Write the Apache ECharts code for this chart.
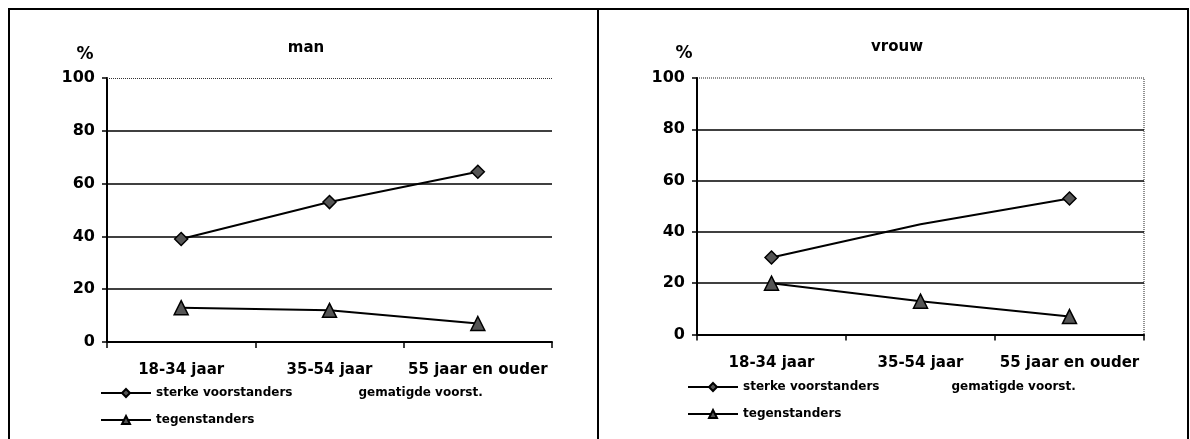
<!DOCTYPE html>
<html>
<head>
<meta charset="utf-8">
<script src="https://cdn.jsdelivr.net/npm/echarts@6/dist/echarts.min.js"></script>
<style>
html,body{margin:0;padding:0;background:#fff;}
#chart{width:1190px;height:439px;}
</style>
</head>
<body>
<div id="chart"></div>
<script>
// ---- data ----
const categories = ['18-34 jaar', '35-54 jaar', '55 jaar en ouder'];
const seriesNames = ['sterke voorstanders', 'gematigde voorst.', 'tegenstanders'];
const panelTitles = ['man', 'vrouw'];
const manSterke = [39, 53, 64.5];
const manGematigd = [];          // not visible in the reference
const manTegen = [13, 12, 7];
const vrouwSterke = [30, 43, 53];
const vrouwGematigd = [];        // not visible in the reference
const vrouwTegen = [20, 13, 7];
const vrouwSterkeHiddenMarkers = [1]; // marker at 35-54 is not drawn in the reference
const yMin = 0, yMax = 100, yStep = 20;

// ---- styling ----
const FONT = 'DejaVu Sans';
const lineStyle = { color: '#000', width: 2 };
const markerStyle = { color: '#555', borderColor: '#000', borderWidth: 1.5 };

function yAxis(gi) {
  return {
    type: 'value', gridIndex: gi, min: yMin, max: yMax, interval: yStep,
    axisLine: { show: true, lineStyle: { color: '#000', width: 2 } },
    axisTick: { show: true, length: 5, lineStyle: { color: '#000', width: 1.5 } },
    axisLabel: { color: '#000', fontFamily: FONT, fontWeight: 'bold', fontSize: 16, margin: 12 },
    splitLine: { show: true, showMaxLine: false, lineStyle: { color: '#000', width: 1.6 } }
  };
}
function xAxis(gi) {
  return {
    type: 'category', gridIndex: gi, data: categories,
    axisLine: { show: true, lineStyle: { color: '#000', width: 2 } },
    axisTick: { show: true, length: 6, lineStyle: { color: '#000', width: 1.5 } },
    axisLabel: { color: '#000', fontFamily: FONT, fontWeight: 'bold', fontSize: 15, margin: 21, interval: 0 },
    splitLine: { show: false }
  };
}
function withHidden(data, hidden) {
  return data.map((v, i) => hidden && hidden.indexOf(i) >= 0 ? { value: v, symbol: 'none' } : v);
}
function sterke(gi, data, extra) {
  return Object.assign({
    name: seriesNames[0], type: 'line', xAxisIndex: gi, yAxisIndex: gi, data: data,
    symbol: 'diamond', symbolSize: 13, lineStyle: lineStyle, itemStyle: markerStyle, z: 3
  }, extra || {});
}
function gematigd(gi, data) {
  return {
    name: seriesNames[1], type: 'line', xAxisIndex: gi, yAxisIndex: gi, data: data,
    symbol: 'none', lineStyle: { color: 'rgba(255,255,255,0)', width: 2 },
    itemStyle: { color: 'rgba(255,255,255,0)' }
  };
}
function tegen(gi, data) {
  return {
    name: seriesNames[2], type: 'line', xAxisIndex: gi, yAxisIndex: gi, data: data,
    symbol: 'triangle', symbolSize: 14, lineStyle: lineStyle, itemStyle: markerStyle, z: 4
  };
}
function legend(left, top, names, gap) {
  return {
    left: left, top: top, orient: 'horizontal', itemGap: gap, padding: 0,
    itemWidth: 50, itemHeight: 10, data: names, selectedMode: false,
    textStyle: { color: '#000', fontFamily: FONT, fontWeight: 'bold', fontSize: 12 }
  };
}
function label(x, y, text, size) {
  return {
    type: 'text', x: x, y: y, silent: true,
    style: { text: text, fill: '#000', font: 'bold ' + size + 'px "' + FONT + '"',
             align: 'center', verticalAlign: 'middle', textAlign: 'center', textVerticalAlign: 'middle' }
  };
}

const chart = echarts.init(document.getElementById('chart'), null, { renderer: 'canvas' });
chart.setOption({
  animation: false,
  backgroundColor: '#fff',
  grid: [
    { left: 107, top: 78, width: 445, height: 264, containLabel: false },
    { left: 697, top: 78, width: 447, height: 256.5, containLabel: false,
      show: true, borderColor: '#222', borderWidth: 1, borderType: 'dotted', backgroundColor: 'transparent' }
  ],
  xAxis: [xAxis(0), xAxis(1)],
  yAxis: [yAxis(0), yAxis(1)],
  legend: [
    legend(100, 387, [seriesNames[0], seriesNames[1]], 10),
    legend(100, 414, [seriesNames[2]], 10),
    legend(687, 381, [seriesNames[0], seriesNames[1]], 16),
    legend(687, 408, [seriesNames[2]], 16)
  ],
  series: [
    sterke(0, manSterke, {
      markLine: { silent: true, symbol: ['none', 'none'], label: { show: false },
        lineStyle: { type: 'dotted', color: '#333', width: 1 }, data: [{ yAxis: yMax }] }
    }),
    gematigd(0, manGematigd),
    tegen(0, manTegen),
    sterke(1, withHidden(vrouwSterke, vrouwSterkeHiddenMarkers)),
    gematigd(1, vrouwGematigd),
    tegen(1, vrouwTegen)
  ],
  graphic: [
    { type: 'polyline', silent: true, shape: { points: [[9, 439], [9, 9], [598, 9], [598, 439]] },
      style: { stroke: '#000', lineWidth: 2, fill: null } },
    { type: 'polyline', silent: true, shape: { points: [[598, 9], [1188, 9], [1188, 439]] },
      style: { stroke: '#000', lineWidth: 2, fill: null } },
    label(306, 48, panelTitles[0], 15),
    label(897, 47, panelTitles[1], 15),
    label(85, 55, '%', 17),
    label(684, 54, '%', 17)
  ]
});
</script>
</body>
</html>
